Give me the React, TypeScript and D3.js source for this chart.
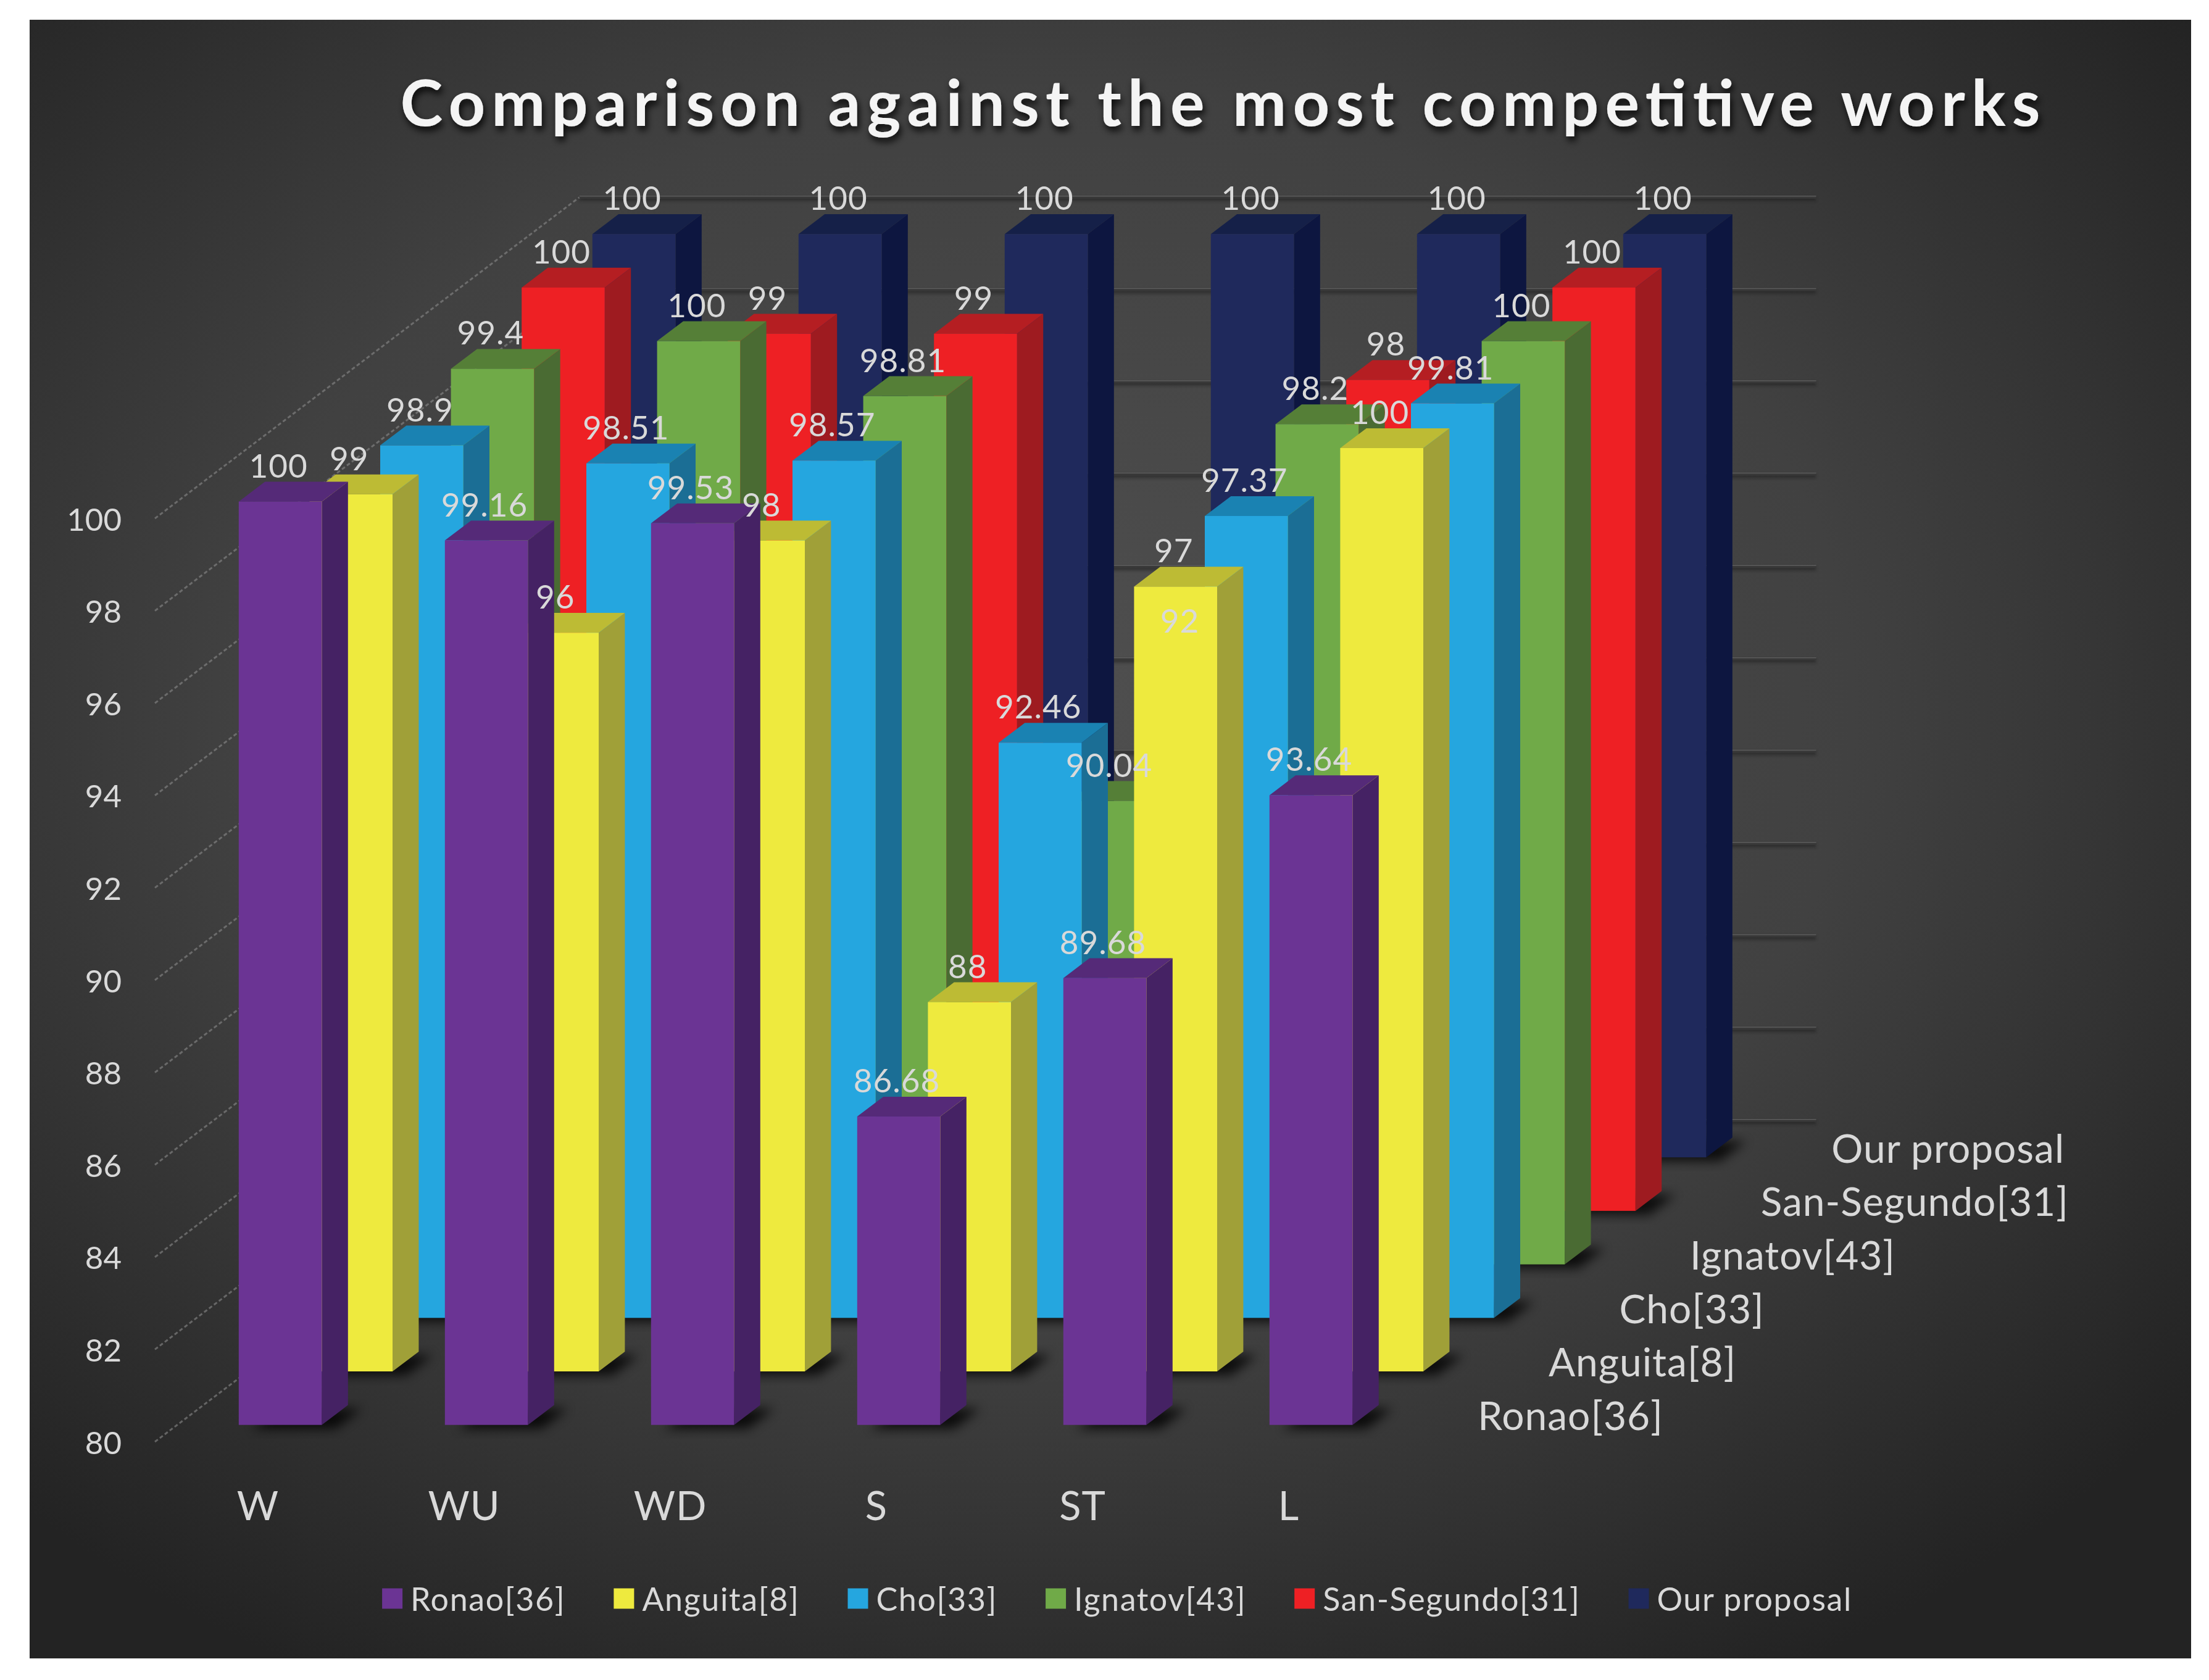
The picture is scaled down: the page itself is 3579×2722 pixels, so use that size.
import React, { useEffect, useRef } from "react";
import * as d3 from "d3";

// ---------- data ----------
const categories = ["W", "WU", "WD", "S", "ST", "L"];
const seriesNames = ["Ronao[36]", "Anguita[8]", "Cho[33]", "Ignatov[43]", "San-Segundo[31]", "Our proposal"];
const ronao = [100, 99.16, 99.53, 86.68, 89.68, 93.64];
const anguita = [99, 96, 98, 88, 97, 100];
const cho = [98.9, 98.51, 98.57, 92.46, 97.37, 99.81];
const ignatov = [99.4, 100, 98.81, 90.04, 98.2, 100];
const sanSegundo = [100, 99, 99, 92, 98, 100];
const ourProposal = [100, 100, 100, 100, 100, 100];
const seriesValues = [ronao, anguita, cho, ignatov, sanSegundo, ourProposal];
const yTicks = [80, 82, 84, 86, 88, 90, 92, 94, 96, 98, 100];
const titleText = "Comparison against the most competitive works";

// colours: front, top, side
const frontColors = ["#6B3494", "#EEEA3E", "#25A6DF", "#70AA48", "#EE2024", "#1F295C"];
const topColors = ["#552A78", "#BDBB34", "#1A82B2", "#557F37", "#B51E22", "#152048"];
const sideColors = ["#452264", "#A0A038", "#1B6E95", "#4A6B33", "#9E1B20", "#0D1640"];

const FONT = "Lato, 'Open Sans', sans-serif";
const LABEL = "#d9d9d9";

export default function App() {
  const ref = useRef<SVGSVGElement>(null);

  useEffect(() => {
    const svg = d3.select(ref.current);
    svg.selectAll("*").remove();

    const defs = svg.append("defs");
    const rg = defs.append("radialGradient").attr("id", "bg").attr("cx", "47%").attr("cy", "42%").attr("r", "68%");
    rg.append("stop").attr("offset", "0%").attr("stop-color", "#4f4f4f");
    rg.append("stop").attr("offset", "55%").attr("stop-color", "#414141");
    rg.append("stop").attr("offset", "100%").attr("stop-color", "#232323");

    const fShadow = defs.append("filter").attr("id", "floorShadow").attr("x", "-50%").attr("y", "-50%").attr("width", "200%").attr("height", "200%");
    fShadow.append("feGaussianBlur").attr("stdDeviation", 9);

    const fTitle = defs.append("filter").attr("id", "titleShadow").attr("x", "-10%").attr("y", "-30%").attr("width", "120%").attr("height", "160%");
    fTitle.append("feDropShadow").attr("dx", 3).attr("dy", 7).attr("stdDeviation", 6).attr("flood-color", "#000").attr("flood-opacity", 0.85);

    const fBlur = defs.append("filter").attr("id", "lineBlur").attr("filterUnits", "userSpaceOnUse")
      .attr("x", 0).attr("y", 0).attr("width", 3579).attr("height", 2722);
    fBlur.append("feGaussianBlur").attr("stdDeviation", 2);

    // panel
    svg.append("rect").attr("x", 48).attr("y", 32).attr("width", 3502).attr("height", 2655).attr("fill", "url(#bg)");

    // ---------- scales / projection ----------
    const catW = 334;
    const x0 = 251;
    const nRows = seriesNames.length;
    const rowDx = 114.6;
    const rowDy = -86.7;
    const xBand = d3.scaleBand<string>().domain(categories).range([x0, x0 + categories.length * catW]).paddingInner(0.597).paddingOuter(0.2985);
    const dBand = d3.scaleBand<string>().domain(seriesNames).range([0, nRows]).paddingInner(0.63).paddingOuter(0.315);
    const y = d3.scaleLinear().domain([80, 100]).range([2336, 840]);
    const xEnd = x0 + categories.length * catW;
    const P = (x: number, v: number, d: number): [number, number] => [x + d * rowDx, y(v) + d * rowDy];
    const pts = (arr: [number, number][]) => arr.map((p) => p.join(",")).join(" ");

    const g = svg.append("g");

    // back wall gridlines (soft dark groove with light edge)
    yTicks.forEach((v) => {
      const a = P(x0, v, nRows);
      const b = P(xEnd, v, nRows);
      g.append("line").attr("x1", a[0]).attr("y1", a[1] + 3).attr("x2", b[0]).attr("y2", b[1] + 3)
        .attr("stroke", "#1c1c1c").attr("stroke-width", 6).attr("opacity", 0.5).attr("filter", "url(#lineBlur)");
      g.append("line").attr("x1", a[0]).attr("y1", a[1]).attr("x2", b[0]).attr("y2", b[1])
        .attr("stroke", "#383838").attr("stroke-width", 4);
      g.append("line").attr("x1", a[0]).attr("y1", a[1] - 2).attr("x2", b[0]).attr("y2", b[1] - 2)
        .attr("stroke", "#5c5c5c").attr("stroke-width", 1.5);
    });
    // left wall gridlines
    yTicks.forEach((v) => {
      const a = P(x0, v, 0);
      const b = P(x0, v, nRows);
      g.append("line").attr("x1", a[0]).attr("y1", a[1]).attr("x2", b[0]).attr("y2", b[1])
        .attr("stroke", "#8a8a8a").attr("stroke-width", 3).attr("stroke-dasharray", "6 4").attr("opacity", 0.6);
    });

    const bw = xBand.bandwidth();
    const dw = dBand.bandwidth();

    // bars, back row first
    for (let s = nRows - 1; s >= 0; s--) {
      const d0 = dBand(seriesNames[s]) as number;
      const d1 = d0 + dw;
      const vals = seriesValues[s];
      // floor shadows
      categories.forEach((c) => {
        const xl = xBand(c) as number;
        const xr = xl + bw;
        const fp: [number, number][] = [P(xl, 80, d0), P(xr, 80, d0), P(xr, 80, d1), P(xl, 80, d1)].map(
          (p) => [p[0] + 22, p[1] + 6] as [number, number]
        );
        g.append("polygon").attr("points", pts(fp)).attr("fill", "#000").attr("opacity", 0.8).attr("filter", "url(#floorShadow)");
      });
      categories.forEach((c, i) => {
        const v = vals[i];
        const xl = xBand(c) as number;
        const xr = xl + bw;
        // side
        g.append("polygon")
          .attr("points", pts([P(xr, v, d0), P(xr, v, d1), P(xr, 80, d1), P(xr, 80, d0)]))
          .attr("fill", sideColors[s]);
        // top
        g.append("polygon")
          .attr("points", pts([P(xl, v, d0), P(xr, v, d0), P(xr, v, d1), P(xl, v, d1)]))
          .attr("fill", topColors[s]);
        // front
        const a = P(xl, v, d0);
        const b = P(xr, 80, d0);
        g.append("rect").attr("x", a[0]).attr("y", a[1]).attr("width", b[0] - a[0]).attr("height", b[1] - a[1])
          .attr("fill", frontColors[s]);
      });
    }

    // data labels (on top of everything)
    for (let s = nRows - 1; s >= 0; s--) {
      const d0 = dBand(seriesNames[s]) as number;
      seriesValues[s].forEach((v, i) => {
        const xl = xBand(categories[i]) as number;
        const p = P(xl + bw / 2 - 3, v, d0);
        g.append("text").attr("x", p[0]).attr("y", p[1] - 39).attr("text-anchor", "middle")
          .attr("font-family", FONT).attr("font-size", 53).attr("letter-spacing", 1).attr("fill", LABEL).text(String(v));
      });
    }

    // value axis labels
    yTicks.forEach((v) => {
      g.append("text").attr("x", 197).attr("y", y(v)).attr("text-anchor", "end").attr("dominant-baseline", "central")
        .attr("font-family", FONT).attr("font-size", 51).attr("fill", LABEL).text(String(v));
    });

    // category labels
    categories.forEach((c) => {
      const xl = xBand(c) as number;
      g.append("text").attr("x", xl + bw / 2).attr("y", y(80) + 102).attr("text-anchor", "middle").attr("dominant-baseline", "central")
        .attr("font-family", FONT).attr("font-size", 65).attr("letter-spacing", 1).attr("fill", LABEL).text(c);
    });

    // series (depth) labels
    seriesNames.forEach((n) => {
      const dc = (dBand(n) as number) + dw / 2;
      const p = P(xEnd, 80, dc);
      g.append("text").attr("x", p[0] + 82).attr("y", p[1]).attr("dominant-baseline", "central")
        .attr("font-family", FONT).attr("font-size", 64).attr("letter-spacing", 1).attr("fill", LABEL).text(n);
    });

    // title
    svg.append("text").attr("x", 1977).attr("y", 204).attr("text-anchor", "middle")
      .attr("font-family", FONT).attr("font-weight", 700).attr("font-size", 104).attr("fill", "#f4f4f4")
      .attr("textLength", 2657).attr("lengthAdjust", "spacing").attr("filter", "url(#titleShadow)").text(titleText);

    // legend
    const lg = svg.append("g");
    const sq = 33, gapIn = 13, gapOut = 78, legendY = 2590, legendCx = 1810;
    const texts = seriesNames.map((n) =>
      lg.append("text").attr("font-family", FONT).attr("font-size", 52).attr("letter-spacing", 1.6).attr("fill", LABEL)
        .attr("dominant-baseline", "central").text(n)
    );
    const widths = texts.map((t) => (t.node() as SVGTextElement).getComputedTextLength());
    const total = widths.reduce((a, w) => a + sq + gapIn + w, 0) + gapOut * (seriesNames.length - 1);
    let cx = legendCx - total / 2;
    seriesNames.forEach((n, i) => {
      lg.append("rect").attr("x", cx).attr("y", legendY - sq / 2).attr("width", sq).attr("height", sq).attr("fill", frontColors[i]);
      texts[i].attr("x", cx + sq + gapIn).attr("y", legendY);
      cx += sq + gapIn + widths[i] + gapOut;
    });
  }, []);

  return <svg ref={ref} width={3579} height={2722} style={{ position: "absolute", left: 0, top: 0, background: "#fff" }} />;
}
